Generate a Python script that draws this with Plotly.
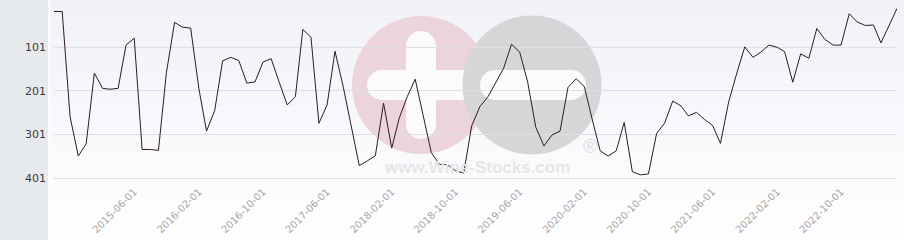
import pandas as pd
import plotly.graph_objects as go

# ---------------- data ----------------
start_month = "2014-08-01"
ranks = [19, 19, 260, 350, 322, 160, 195, 197, 195, 96,
         80, 335, 335, 337, 159, 44, 55, 57, 195, 293,
         246, 132, 124, 131, 183, 180, 135, 127, 180, 233,
         214, 60, 78, 275, 233, 110, 191, 281, 372, 361,
         349, 229, 332, 264, 214, 174, 256, 342, 369, 370,
         384, 389, 281, 237, 214, 183, 149, 94, 112, 180,
         284, 327, 302, 293, 193, 173, 191, 264, 338, 350,
         338, 273, 386, 393, 391, 298, 275, 224, 235, 258,
         250, 266, 280, 321, 226, 160, 100, 124, 112, 96,
         101, 111, 181, 116, 126, 58, 83, 96, 96, 24,
         43, 51, 50, 91, 50, 12]
dates = pd.date_range(start_month, periods=len(ranks), freq="MS")
y_tickvals = [101, 201, 301, 401]
x_tickvals = ["2015-06-01", "2016-02-01", "2016-10-01", "2017-06-01",
              "2018-02-01", "2018-10-01", "2019-06-01", "2020-02-01",
              "2020-10-01", "2021-06-01", "2022-02-01", "2022-10-01"]

# ---------------- layout geometry ----------------
W, H = 904, 240
L, R, T, B = 54, 7, 0, 57
PW, PH = W - L - R, H - T - B


def px(x):
    return (x - L) / PW


def py(y):
    return (T + PH - y) / PH


# value<->pixel for the reversed rank axis
def val_at(ypx):
    return 101 + (ypx - 47.3) * (300 / 131.0)


shapes = []
# left grey strip
shapes.append(dict(type="rect", xref="paper", yref="paper", x0=px(0), x1=px(48.3),
                   y0=py(H), y1=py(0), fillcolor="#e7eaed", line_width=0, layer="below"))
# gradient background (bands)
n = 24
top_c = (241, 242, 247)
bot_c = (252, 252, 254)
for i in range(n):
    y0 = 198 * i / n
    y1 = 198 * (i + 1) / n
    t = i / (n - 1)
    c = tuple(round(top_c[k] + (bot_c[k] - top_c[k]) * t) for k in range(3))
    shapes.append(dict(type="rect", xref="paper", yref="paper", x0=px(50), x1=px(W),
                       y0=py(y1), y1=py(y0), fillcolor="rgb(%d,%d,%d)" % c,
                       line_width=0, layer="below"))
shapes.append(dict(type="rect", xref="paper", yref="paper", x0=px(50), x1=px(W),
                   y0=py(H), y1=py(198), fillcolor="#fdfdfe", line_width=0, layer="below"))


def circle(cx, cy, r, color):
    return dict(type="circle", xref="paper", yref="paper", x0=px(cx - r), x1=px(cx + r),
                y0=py(cy + r), y1=py(cy - r), fillcolor=color, line_width=0, layer="below")


def rbar(x0, x1, y0, y1, color, horizontal=True):
    out = []
    if horizontal:
        r = (y1 - y0) / 2
        out.append(dict(type="rect", xref="paper", yref="paper", x0=px(x0 + r), x1=px(x1 - r),
                        y0=py(y1), y1=py(y0), fillcolor=color, line_width=0, layer="below"))
        out.append(circle(x0 + r, (y0 + y1) / 2, r, color))
        out.append(circle(x1 - r, (y0 + y1) / 2, r, color))
    else:
        r = (x1 - x0) / 2
        out.append(dict(type="rect", xref="paper", yref="paper", x0=px(x0), x1=px(x1),
                        y0=py(y1 - r), y1=py(y0 + r), fillcolor=color, line_width=0, layer="below"))
        out.append(circle((x0 + x1) / 2, y0 + r, r, color))
        out.append(circle((x0 + x1) / 2, y1 - r, r, color))
    return out


pink = "#ebd4dc"
grey = "#d6d6d9"
white = "#fbfbfc"
shapes.append(circle(421, 85, 69, pink))
shapes += rbar(406, 436, 31, 139, white, horizontal=False)
shapes += rbar(367, 480, 70, 100, white, horizontal=True)
shapes.append(circle(532, 85, 69.5, grey))
shapes += rbar(480, 586, 70, 100, white, horizontal=True)

annotations = [
    dict(text="<b>www.Wine-Stocks.com</b>", xref="paper", yref="paper", x=px(477), y=py(167),
         showarrow=False, font=dict(family="Liberation Sans, Arial", size=17, color="#e6e6e9"),
         xanchor="center", yanchor="middle"),
    dict(text="®", xref="paper", yref="paper", x=px(590.5), y=py(146),
         showarrow=False, font=dict(family="Liberation Sans, Arial", size=20, color="#dcdcdf"),
         xanchor="center", yanchor="middle"),
]

fig = go.Figure()
fig.add_trace(go.Scatter(x=dates, y=ranks, mode="lines",
                         line=dict(color="#2e1a24", width=1), hoverinfo="x+y"))

fig.update_layout(
    width=W, height=H,
    margin=dict(l=L, r=R, t=T, b=B, pad=0),
    paper_bgcolor="#ffffff",
    plot_bgcolor="rgba(0,0,0,0)",
    showlegend=False,
    shapes=shapes,
    annotations=annotations,
    xaxis=dict(
        range=[dates[0], dates[-1]],
        tickmode="array", tickvals=x_tickvals, ticktext=x_tickvals,
        tickangle=-45,
        showgrid=False, zeroline=False, showline=False, ticks="",
        tickfont=dict(family="DejaVu Sans", size=10, color="#a6a6a6"),
        fixedrange=True,
    ),
    yaxis=dict(
        range=[val_at(T + PH), val_at(T)],
        tickvals=y_tickvals, ticktext=[str(v) for v in y_tickvals],
        showgrid=True, gridcolor="#dedee4", gridwidth=1,
        zeroline=False, showline=False, ticks="",
        ticklabelstandoff=7,
        tickfont=dict(family="DejaVu Sans", size=11, color="#3a3a3a"),
        fixedrange=True,
    ),
)

fig.write_html("out.html")
